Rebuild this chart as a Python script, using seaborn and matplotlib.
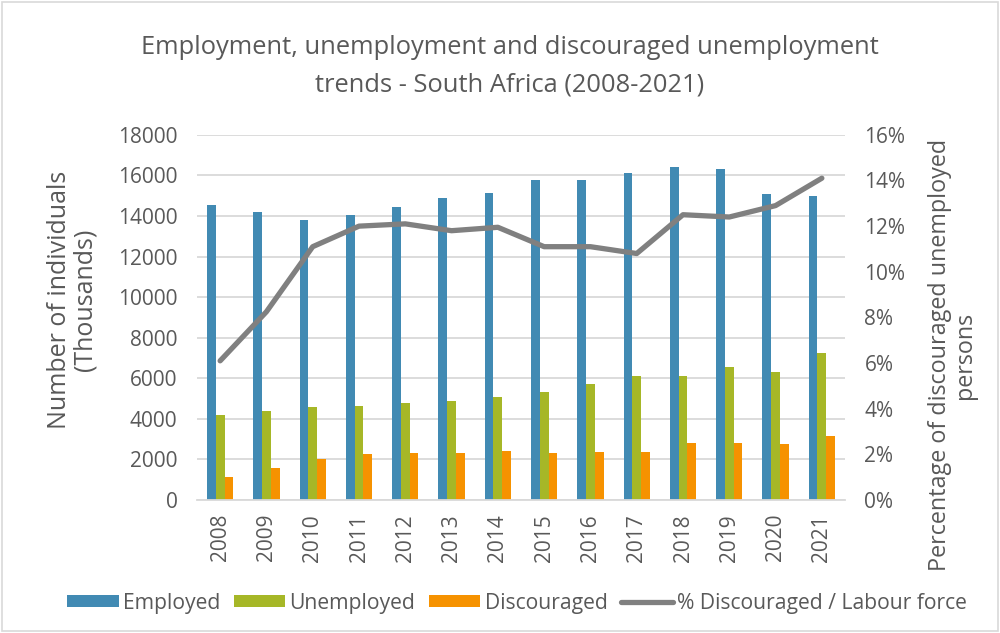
import numpy as np
import pandas as pd
import matplotlib
matplotlib.use("Agg")
import matplotlib.pyplot as plt
import seaborn as sns
from matplotlib.patches import Patch, Rectangle
from matplotlib.lines import Line2D
from matplotlib.ticker import FuncFormatter, MultipleLocator

# ---- data (thousands; % of labour force) ----
years = [str(y) for y in range(2008, 2022)]
employed = [14550, 14190, 13810, 14040, 14430, 14880, 15120, 15770, 15770, 16140, 16390, 16320, 15060, 14990]
unemployed = [4190, 4390, 4590, 4650, 4770, 4900, 5100, 5340, 5720, 6100, 6100, 6540, 6300, 7230]
discouraged = [1120, 1560, 2010, 2250, 2320, 2320, 2430, 2320, 2380, 2380, 2810, 2810, 2760, 3140]
pct_discouraged = [6.1, 8.25, 11.1, 12.0, 12.1, 11.8, 11.95, 11.1, 11.1, 10.8, 12.5, 12.4, 12.9, 14.1]

series_names = ["Employed", "Unemployed", "Discouraged"]
line_name = "% Discouraged / Labour force"
colors = ["#418AB3", "#A6B727", "#F69200"]
line_color = "#808080"
text_color = "#595959"
grid_color = "#D9D9D9"

df = pd.DataFrame({
    "Year": years * 3,
    "Series": sum([[n] * len(years) for n in series_names], []),
    "Value": employed + unemployed + discouraged,
})
df_line = pd.DataFrame({"Year": years, "Pct": pct_discouraged})

sns.set_theme(style="white")
plt.rcParams["font.family"] = ["Open Sans", "DejaVu Sans"]

fig = plt.figure(figsize=(10, 6.33), dpi=100)
ax = fig.add_axes([0.197, 0.21, 0.648, 0.577])

sns.barplot(data=df, x="Year", y="Value", hue="Series", hue_order=series_names,
            palette=colors, width=0.565, ax=ax, legend=False, saturation=1,
            edgecolor="none")

ax.set_ylim(0, 18000)
ax.yaxis.set_major_locator(MultipleLocator(2000))
ax.yaxis.grid(True, color=grid_color, lw=1.3)
ax.set_axisbelow(True)
for s in ["left", "right", "top"]:
    ax.spines[s].set_visible(False)
ax.spines["bottom"].set_color(grid_color)
ax.spines["bottom"].set_linewidth(1.3)
ax.tick_params(axis="both", length=0, labelcolor=text_color, labelsize=15)
ax.tick_params(axis="y", pad=14)
ax.tick_params(axis="x", pad=10)
plt.setp(ax.get_xticklabels(), rotation=90)
ax.set_xlabel("")
ax.set_ylabel("Number of individuals\n(Thousands)", color=text_color, fontsize=18,
              linespacing=1.05)
ax.yaxis.set_label_coords(-0.153, 0.548)

ax2 = ax.twinx()
sns.pointplot(data=df_line, x="Year", y="Pct", ax=ax2, color=line_color,
              markers="", errorbar=None, linewidth=3.8)
for ln in ax2.lines:
    ln.set_solid_capstyle("round")
    ln.set_solid_joinstyle("round")
ax2.set_ylim(0, 16)
ax2.yaxis.set_major_locator(MultipleLocator(2))
ax2.yaxis.set_major_formatter(FuncFormatter(lambda v, p: f"{v:.0f}%"))
for s in ax2.spines.values():
    s.set_visible(False)
ax2.tick_params(axis="y", length=0, labelcolor=text_color, labelsize=15, pad=14)
ax2.set_ylabel("Percentage of discouraged unemployed\npersons", color=text_color,
               fontsize=16.8, linespacing=1.05)
ax2.yaxis.set_label_coords(1.128, 0.397)
ax2.set_xlabel("")
ax.set_xlim(-0.5, len(years) - 0.5)

fig.suptitle("Employment, unemployment and discouraged unemployment\ntrends - South Africa (2008-2021)",
             x=0.51, y=0.945, color=text_color, fontsize=18.4, linespacing=1.65)

handles = [Patch(facecolor=c, edgecolor="none") for c in colors]
handles.append(Line2D([0], [0], color=line_color, lw=3.8))
fig.legend(handles, series_names + [line_name], loc="center",
           bbox_to_anchor=(0.517, 0.047), ncol=4, frameon=False,
           fontsize=15.2, labelcolor=text_color, handlelength=2.43,
           handleheight=0.5, handletextpad=0.2, columnspacing=0.65)

fig.patches.append(Rectangle((0.002, 0.003), 0.996, 0.994, transform=fig.transFigure,
                             fill=False, edgecolor=grid_color, lw=1.2))

fig.savefig("out.png", dpi=100)
